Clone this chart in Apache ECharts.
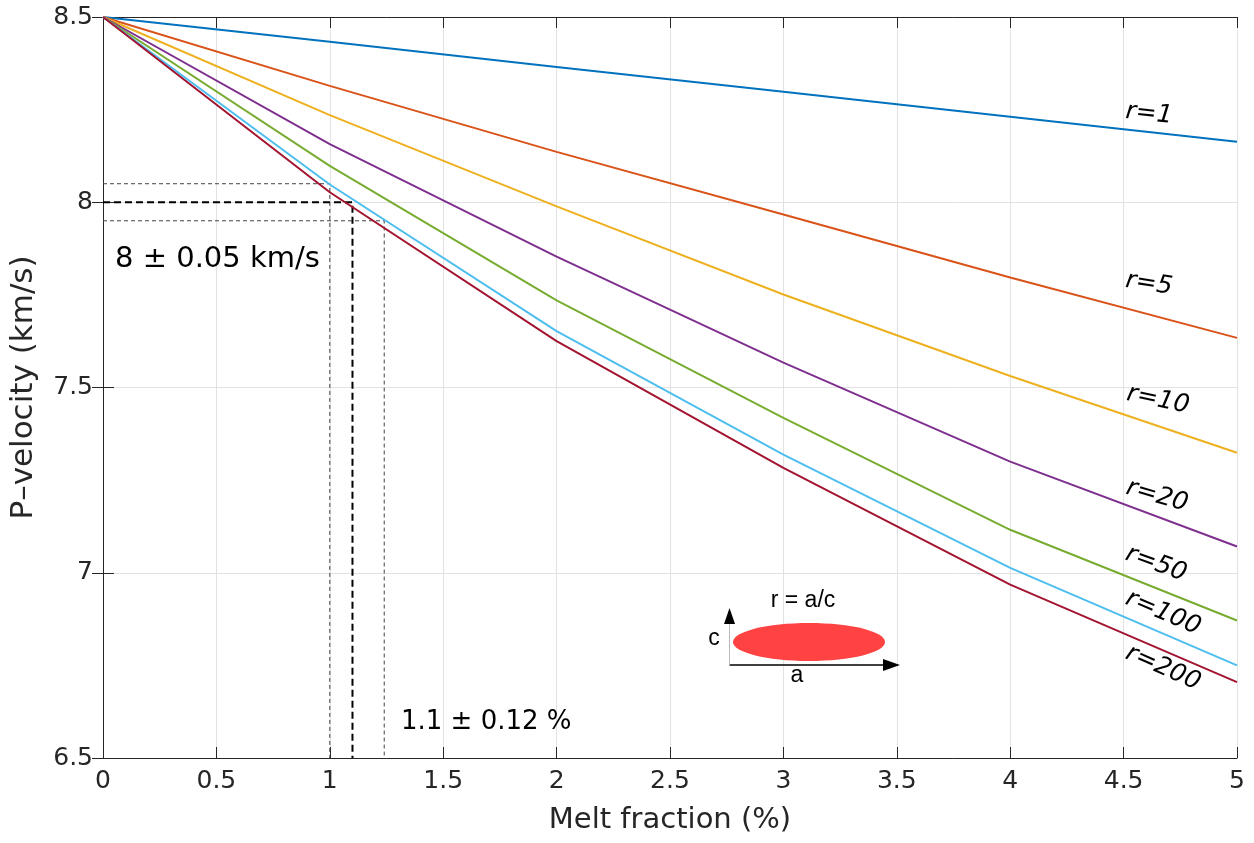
<!DOCTYPE html>
<html>
<head>
<meta charset="utf-8">
<title>P-velocity vs melt fraction</title>
<script src="https://cdn.jsdelivr.net/npm/echarts@6/dist/echarts.min.js"></script>
<style>
  html, body { margin: 0; padding: 0; background: #ffffff; }
  #chart { width: 1254px; height: 843px; }
</style>
</head>
<body>
<div id="chart"></div>
<script>
// Melt fraction (%) at which velocities were computed
const meltFraction = [0, 1, 2, 3, 4, 5];

// P-velocity (km/s) for each inclusion aspect ratio r = a/c
const vpR1   = [8.5, 8.433, 8.365, 8.298, 8.231, 8.163];
const vpR5   = [8.5, 8.314, 8.136, 7.967, 7.797, 7.634];
const vpR10  = [8.5, 8.235, 7.989, 7.751, 7.531, 7.324];
const vpR20  = [8.5, 8.157, 7.853, 7.567, 7.300, 7.071];
const vpR50  = [8.5, 8.098, 7.735, 7.418, 7.116, 6.871];
const vpR100 = [8.5, 8.048, 7.652, 7.319, 7.013, 6.750];
const vpR200 = [8.5, 8.027, 7.625, 7.283, 6.968, 6.705];

const curveLabels = ['r=1', 'r=5', 'r=10', 'r=20', 'r=50', 'r=100', 'r=200'];
const curveValues = [vpR1, vpR5, vpR10, vpR20, vpR50, vpR100, vpR200];

// Observed velocity band (km/s) and corresponding melt fraction band (%)
const velocityBand = [8.05, 8.0, 7.95];
const meltBand = [1.0, 1.1, 1.24];

// Axis ticks
const xTickLabels = ['0', '0.5', '1', '1.5', '2', '2.5', '3', '3.5', '4', '4.5', '5'];
const yTickLabels = ['6.5', '7', '7.5', '8', '8.5'];

const colors = ['#0072BD', '#D95319', '#EDB120', '#7E2F8E', '#77AC30', '#4DBEEE', '#A2142F'];

const X_MIN = 0, X_MAX = 5, Y_MIN = 6.5, Y_MAX = 8.5;
const axisColor = '#262626';
const gridColor = '#e2e2e2';
const tickFont = 'DejaVu Sans';

const chart = echarts.init(document.getElementById('chart'), null, { renderer: 'canvas' });

const curveSeries = curveValues.map((vals, i) => ({
  name: curveLabels[i],
  type: 'line',
  xAxisIndex: 0,
  yAxisIndex: 0,
  data: meltFraction.map((m, j) => [m, vals[j]]),
  showSymbol: false,
  symbol: 'none',
  lineStyle: { color: colors[i], width: 2 },
  z: 3 + i,
  silent: true
}));

// Dashed guide lines: horizontal from the y-axis to the r=100 curve, then down to the x-axis
const guideSeries = velocityBand.map((v, i) => {
  const central = i === 1;
  return {
    type: 'line',
    data: [[X_MIN, v], [meltBand[i], v], [meltBand[i], Y_MIN]],
    showSymbol: false,
    symbol: 'none',
    lineStyle: {
      color: central ? '#000000' : '#444444',
      width: central ? 2 : 1,
      type: central ? [7, 4] : [4, 3]
    },
    z: 2,
    silent: true
  };
});

// Curve labels, rotated along each curve near the right edge
const labelPlacement = [
  { x: 1149, y: 114, rot: -6 },
  { x: 1149, y: 284, rot: -9 },
  { x: 1158, y: 400, rot: -12 },
  { x: 1157, y: 496, rot: -16 },
  { x: 1156, y: 564, rot: -20 },
  { x: 1163, y: 613, rot: -23 },
  { x: 1163, y: 668, rot: -24 }
];

const graphics = curveLabels.map((t, i) => ({
  type: 'text',
  x: labelPlacement[i].x,
  y: labelPlacement[i].y,
  rotation: labelPlacement[i].rot * Math.PI / 180,
  style: {
    text: t,
    fontFamily: 'DejaVu Sans',
    fontStyle: 'italic',
    fontSize: 25,
    fill: '#000000',
    align: 'center',
    verticalAlign: 'middle'
  },
  z: 20
}));

graphics.push(
  {
    type: 'text', x: 115, y: 259,
    style: { text: '8 \u00b1 0.05 km/s', fontFamily: 'DejaVu Sans', fontSize: 29, fill: '#000', align: 'left', verticalAlign: 'middle' },
    z: 20
  },
  {
    type: 'text', x: 401, y: 722,
    style: { text: '1.1 \u00b1 0.12 %', fontFamily: 'DejaVu Sans', fontSize: 26, fill: '#000', align: 'left', verticalAlign: 'middle' },
    z: 20
  },
  // Inset: penny-shaped inclusion with aspect ratio r = a/c
  {
    type: 'ellipse',
    shape: { cx: 809, cy: 642, rx: 76, ry: 19 },
    style: { fill: '#ff4242' },
    z: 15
  },
  {
    type: 'line',
    shape: { x1: 729.5, y1: 665, x2: 886, y2: 665 },
    style: { stroke: '#000', lineWidth: 1.5 },
    z: 16
  },
  {
    type: 'polygon',
    shape: { points: [[883, 659], [900, 665], [883, 671]] },
    style: { fill: '#000' },
    z: 16
  },
  {
    type: 'line',
    shape: { x1: 729.5, y1: 665, x2: 729.5, y2: 622 },
    style: { stroke: '#bbbbbb', lineWidth: 1 },
    z: 16
  },
  {
    type: 'polygon',
    shape: { points: [[724, 624], [729.5, 608], [735, 624]] },
    style: { fill: '#000' },
    z: 16
  },
  {
    type: 'text', x: 803, y: 601,
    style: { text: 'r = a/c', fontFamily: 'Liberation Sans', fontSize: 23, fill: '#000', align: 'center', verticalAlign: 'middle' },
    z: 16
  },
  {
    type: 'text', x: 714, y: 639,
    style: { text: 'c', fontFamily: 'Liberation Sans', fontSize: 23, fill: '#000', align: 'center', verticalAlign: 'middle' },
    z: 16
  },
  {
    type: 'text', x: 797, y: 676,
    style: { text: 'a', fontFamily: 'Liberation Sans', fontSize: 23, fill: '#000', align: 'center', verticalAlign: 'middle' },
    z: 16
  }
);

const xLabelFor = v => {
  const idx = Math.round((v - X_MIN) / 0.5);
  return xTickLabels[idx] !== undefined ? xTickLabels[idx] : '';
};
const yLabelFor = v => {
  const idx = Math.round((v - Y_MIN) / 0.5);
  return yTickLabels[idx] !== undefined ? yTickLabels[idx] : '';
};

const option = {
  animation: false,
  backgroundColor: '#ffffff',
  grid: { left: 102, right: 17, top: 17, bottom: 85, containLabel: false },
  xAxis: [
    {
      type: 'value', min: X_MIN, max: X_MAX, interval: 0.5,
      position: 'bottom',
      name: 'Melt fraction (%)', nameLocation: 'middle', nameGap: 48,
      nameTextStyle: { fontFamily: tickFont, fontSize: 29, color: axisColor },
      axisLine: { show: true, lineStyle: { color: axisColor, width: 1 } },
      axisTick: { show: true, inside: true, length: 11, lineStyle: { color: axisColor } },
      axisLabel: { formatter: xLabelFor, fontFamily: tickFont, fontSize: 25, color: axisColor, margin: 11 },
      splitLine: { show: true, lineStyle: { color: gridColor, width: 1 } }
    },
    {
      type: 'value', min: X_MIN, max: X_MAX, interval: 0.5,
      position: 'top',
      axisLine: { show: true, lineStyle: { color: axisColor, width: 1 } },
      axisTick: { show: true, inside: true, length: 11, lineStyle: { color: axisColor } },
      axisLabel: { show: false },
      splitLine: { show: false }
    }
  ],
  yAxis: [
    {
      type: 'value', min: Y_MIN, max: Y_MAX, interval: 0.5,
      position: 'left',
      name: 'P\u2013velocity (km/s)', nameLocation: 'middle', nameGap: 64,
      nameTextStyle: { fontFamily: tickFont, fontSize: 31, color: axisColor },
      axisLine: { show: true, lineStyle: { color: axisColor, width: 1 } },
      axisTick: { show: true, inside: true, length: 11, lineStyle: { color: axisColor } },
      axisLabel: { formatter: yLabelFor, fontFamily: tickFont, fontSize: 25, color: axisColor, margin: 10 },
      splitLine: { show: true, lineStyle: { color: gridColor, width: 1 } }
    },
    {
      type: 'value', min: Y_MIN, max: Y_MAX, interval: 0.5,
      position: 'right',
      axisLine: { show: true, lineStyle: { color: axisColor, width: 1 } },
      axisTick: { show: true, inside: true, length: 11, lineStyle: { color: axisColor } },
      axisLabel: { show: false },
      splitLine: { show: false }
    }
  ],
  series: guideSeries.concat(curveSeries),
  graphic: graphics
};

chart.setOption(option);
</script>
</body>
</html>
